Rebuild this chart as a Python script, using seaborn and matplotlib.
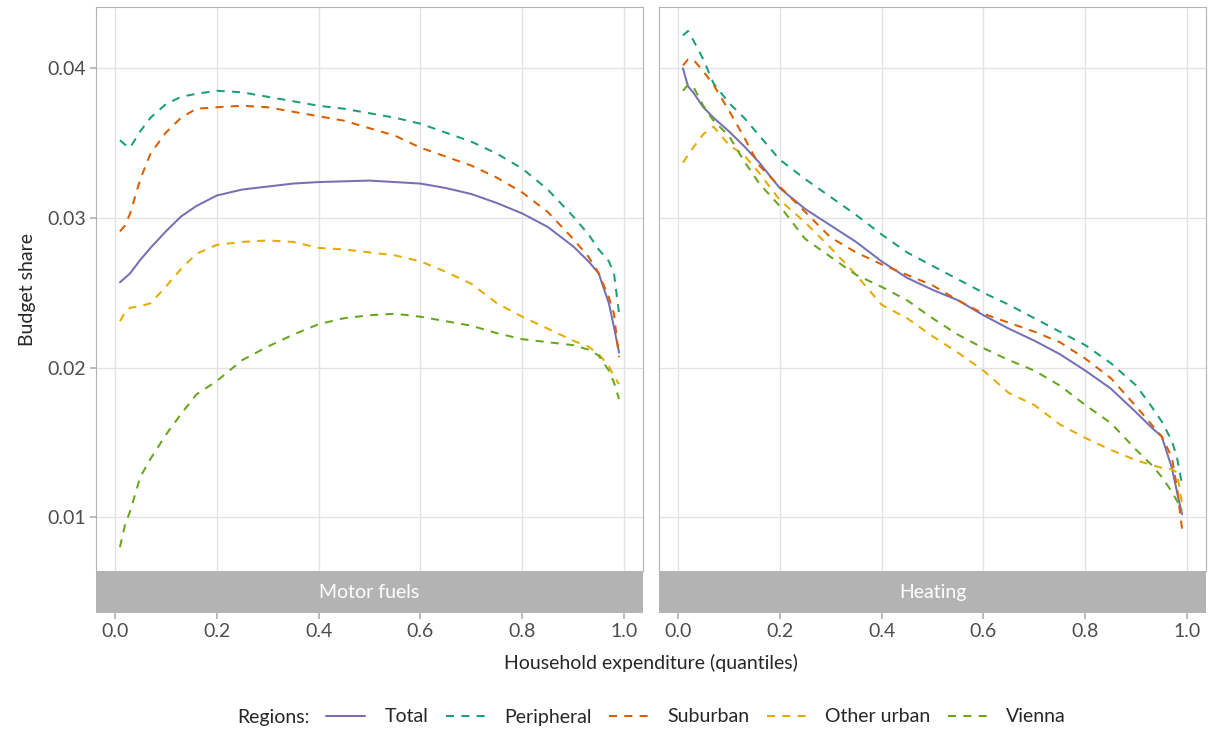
import numpy as np
import pandas as pd
import matplotlib
matplotlib.use("Agg")
import matplotlib.pyplot as plt
import seaborn as sns

# household expenditure quantiles (x grid shared by all series)
quantiles = [0.01, 0.02, 0.03, 0.05, 0.07, 0.10, 0.13, 0.16, 0.20, 0.25, 0.30, 0.35,
             0.40, 0.45, 0.50, 0.55, 0.60, 0.65, 0.70, 0.75, 0.80, 0.85, 0.90,
             0.93, 0.95, 0.97, 0.98, 0.99]

regions = ["Total", "Peripheral", "Suburban", "Other urban", "Vienna"]
categories = ["Motor fuels", "Heating"]

# Motor fuels budget shares
fuel_total = [0.0257, 0.0260, 0.0263, 0.0272, 0.0280, 0.0291, 0.0301, 0.0308, 0.0315, 0.0319,
              0.0321, 0.0323, 0.0324, 0.03245, 0.0325, 0.0324, 0.0323, 0.0320, 0.0316, 0.0310,
              0.0303, 0.0294, 0.0281, 0.0271, 0.0263, 0.0243, 0.0227, 0.0210]
fuel_peripheral = [0.0352, 0.0349, 0.0347, 0.0358, 0.0367, 0.0376, 0.0381, 0.0383, 0.0385, 0.0384,
                   0.0381, 0.0378, 0.0375, 0.0373, 0.0370, 0.0367, 0.0363, 0.0357, 0.0351, 0.0343,
                   0.0333, 0.0319, 0.0301, 0.0289, 0.0279, 0.0271, 0.0263, 0.0236]
fuel_suburban = [0.0291, 0.0295, 0.0303, 0.0326, 0.0343, 0.0357, 0.0367, 0.0373, 0.0374, 0.0375,
                 0.0374, 0.0371, 0.0368, 0.0365, 0.0360, 0.0355, 0.0347, 0.0341, 0.0335, 0.0327,
                 0.0317, 0.0304, 0.0286, 0.0274, 0.0263, 0.0247, 0.0236, 0.0207]
fuel_other_urban = [0.0231, 0.0237, 0.0240, 0.0241, 0.0243, 0.0254, 0.0266, 0.0276, 0.0282, 0.0284,
                    0.0285, 0.0284, 0.0280, 0.0279, 0.0277, 0.0275, 0.0271, 0.0264, 0.0256, 0.0243,
                    0.0234, 0.0226, 0.0218, 0.0214, 0.0209, 0.0201, 0.0194, 0.0189]
fuel_vienna = [0.0080, 0.0095, 0.0104, 0.0127, 0.0139, 0.0155, 0.0169, 0.0182, 0.0191, 0.0205,
               0.0214, 0.0222, 0.0229, 0.0233, 0.0235, 0.0236, 0.0234, 0.0231, 0.0228, 0.0223,
               0.0219, 0.0217, 0.0215, 0.0212, 0.0208, 0.0198, 0.0190, 0.0179]

# Heating budget shares
heat_total = [0.0400, 0.0388, 0.0384, 0.0374, 0.0367, 0.0358, 0.0348, 0.0337, 0.0320, 0.0306,
              0.0295, 0.0284, 0.0271, 0.0260, 0.0252, 0.0245, 0.0235, 0.0226, 0.0218, 0.0209,
              0.0198, 0.0186, 0.0170, 0.0160, 0.0154, 0.0133, 0.0117, 0.0102]
heat_peripheral = [0.0422, 0.0425, 0.0419, 0.0406, 0.0390, 0.0377, 0.0367, 0.0355, 0.0339, 0.0326,
                   0.0314, 0.0302, 0.0289, 0.0277, 0.0268, 0.0259, 0.0250, 0.0242, 0.0233, 0.0224,
                   0.0215, 0.0203, 0.0188, 0.0174, 0.0164, 0.0151, 0.0140, 0.0122]
heat_suburban = [0.0402, 0.0406, 0.0406, 0.0398, 0.0389, 0.0372, 0.0354, 0.0335, 0.0321, 0.0304,
                 0.0287, 0.0277, 0.0269, 0.0262, 0.0255, 0.0245, 0.0236, 0.0230, 0.0224, 0.0217,
                 0.0206, 0.0193, 0.0174, 0.0162, 0.0154, 0.0140, 0.0120, 0.0092]
heat_other_urban = [0.0337, 0.0342, 0.0347, 0.0356, 0.0361, 0.0349, 0.0342, 0.0330, 0.0312, 0.0297,
                    0.0280, 0.0262, 0.0242, 0.0233, 0.0221, 0.0210, 0.0198, 0.0183, 0.0175, 0.0162,
                    0.0153, 0.0145, 0.0138, 0.0135, 0.0133, 0.0132, 0.0130, 0.0109]
heat_vienna = [0.0385, 0.0389, 0.0388, 0.0375, 0.0365, 0.0355, 0.0338, 0.0323, 0.0308, 0.0286,
               0.0274, 0.0262, 0.0254, 0.0245, 0.0233, 0.0222, 0.0213, 0.0205, 0.0198, 0.0188,
               0.0175, 0.0163, 0.0145, 0.0135, 0.0127, 0.0117, 0.0111, 0.0105]

x_ticks = [0.0, 0.2, 0.4, 0.6, 0.8, 1.0]
y_ticks = [0.01, 0.02, 0.03, 0.04]

series = {
    "Motor fuels": [fuel_total, fuel_peripheral, fuel_suburban, fuel_other_urban, fuel_vienna],
    "Heating": [heat_total, heat_peripheral, heat_suburban, heat_other_urban, heat_vienna],
}
rows = []
for cat in categories:
    for reg, vals in zip(regions, series[cat]):
        for q, v in zip(quantiles, vals):
            rows.append({"Category": cat, "Region": reg, "Quantile": q, "Share": v})
df = pd.DataFrame(rows)

palette = {"Total": "#7570B3", "Peripheral": "#1B9E77", "Suburban": "#D95F02",
           "Other urban": "#E6AB02", "Vienna": "#66A61E"}
dashes = {"Total": "", "Peripheral": (4, 3.6), "Suburban": (4, 3.6),
          "Other urban": (4, 3.6), "Vienna": (4, 3.6)}

sns.set_theme(style="white")
plt.rcParams["font.family"] = ["Lato", "DejaVu Sans"]

W, H = 1211, 733
fig = plt.figure(figsize=(W / 100, H / 100), dpi=100)

grid_col = "#E3E3E3"
border_col = "#B3B3B3"
tick_col = "#4D4D4D"
fs = 14
lw = 1.45

panel_left = [96, 659]
panel_w = 547
top, strip_top, strip_bot = 6.7, 571.4, 613

for i, cat in enumerate(categories):
    l = panel_left[i] / W
    ax = fig.add_axes([l, 1 - strip_top / H, panel_w / W, (strip_top - top) / H])
    sax = fig.add_axes([l, 1 - strip_bot / H, panel_w / W, (strip_bot - strip_top) / H], sharex=ax)

    sns.lineplot(data=df[df["Category"] == cat], x="Quantile", y="Share", hue="Region",
                 style="Region", hue_order=regions, style_order=regions,
                 palette=palette, dashes=dashes, linewidth=lw, ax=ax, legend=False)

    ax.set_xlim(-0.037, 1.037)
    ax.set_ylim(0.00638, 0.04412)
    ax.set_xticks(x_ticks)
    ax.set_yticks(y_ticks)
    ax.grid(True, color=grid_col, linewidth=1.0)
    ax.set_axisbelow(True)
    ax.tick_params(axis="x", length=0, labelbottom=False)
    if i == 0:
        ax.set_yticklabels([f"{v:.2f}" for v in y_ticks])
        ax.tick_params(axis="y", length=4, color=border_col, labelcolor=tick_col,
                       labelsize=fs, pad=3, left=True)
        ax.set_ylabel("Budget share", fontsize=fs, labelpad=8)
    else:
        ax.tick_params(axis="y", length=0, labelleft=False)
        ax.set_ylabel("")
    ax.set_xlabel("")
    for s in ax.spines.values():
        s.set_color(border_col)
        s.set_linewidth(0.8)
    ax.spines["bottom"].set_visible(False)

    sax.set_facecolor(border_col)
    for s in sax.spines.values():
        s.set_visible(False)
    sax.set_yticks([])
    sax.set_xticklabels([f"{v:.1f}" for v in x_ticks])
    sax.tick_params(axis="x", length=4, color=border_col, labelcolor=tick_col,
                    labelsize=fs, pad=3, bottom=True)
    sax.text(0.5, 0.5, cat, transform=sax.transAxes, ha="center", va="center",
             color="white", fontsize=fs)

fig.text(651 / W, 1 - 663 / H, "Household expenditure (quantiles)", ha="center",
         va="center", fontsize=fs)

handles = []
for r in regions:
    h = plt.Line2D([], [], color=palette[r], linewidth=lw)
    if dashes[r] != "":
        h.set_dashes(dashes[r])
    handles.append(h)
fig.text(237 / W, 1 - 717 / H, "Regions:", ha="left", va="center", fontsize=fs)
fig.legend(handles, regions, loc="center left", bbox_to_anchor=(326 / W, 1 - 717 / H),
           ncol=5, frameon=False, fontsize=fs, handlelength=2.0, handletextpad=1.0,
           columnspacing=0.9, borderaxespad=0, borderpad=0)

fig.savefig("out.png", dpi=100)
